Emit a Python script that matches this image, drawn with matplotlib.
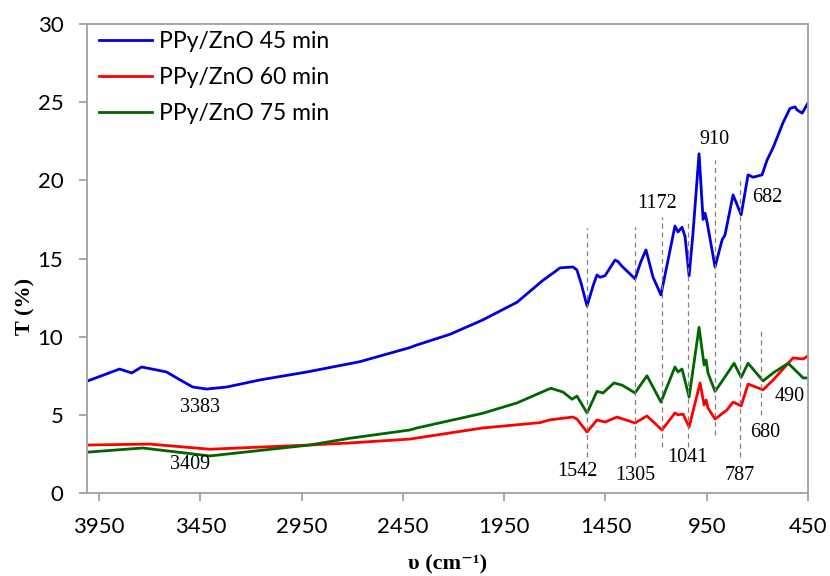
import numpy as np
import matplotlib
matplotlib.use('Agg')
import matplotlib.pyplot as plt

# FTIR spectra (wavenumber cm-1, T %)
blue_v = [4000, 3849, 3789, 3740, 3666, 3617, 3567, 3488, 3419, 3320, 3157, 2925,
          2663, 2416, 2381, 2218, 2056, 1887, 1759, 1700, 1675, 1611, 1591, 1570, 1541,
          1510, 1492, 1477, 1452, 1403, 1388, 1368, 1339, 1304, 1275, 1250, 1215,
          1176, 1141, 1107, 1092, 1072, 1057, 1037, 1018, 988, 968, 958, 948, 909,
          874, 860, 820, 780, 746, 721, 677, 652, 622, 573, 539, 514, 504, 479, 450]
blue_t = [7.2, 7.93, 7.68, 8.06, 7.87, 7.74, 7.36, 6.78, 6.65, 6.78, 7.23, 7.74,
          8.4, 9.3, 9.47, 10.15, 11.07, 12.2, 13.6, 14.15, 14.4, 14.46, 14.27, 13.4, 11.96,
          13.3, 13.95, 13.8, 13.9, 14.9, 14.8, 14.5, 14.14, 13.7, 14.8, 15.55, 13.8,
          12.67, 14.9, 17.08, 16.7, 17.0, 16.4, 13.9, 16.6, 21.7, 17.5, 17.9, 17.3, 14.46,
          16.2, 16.5, 19.07, 17.8, 20.35, 20.2, 20.35, 21.3, 22.1, 23.7, 24.6, 24.7, 24.5, 24.3, 24.95]

red_v = [4000, 3701, 3404, 2910, 2713, 2416, 2056, 1774, 1724, 1611, 1591, 1541,
         1492, 1452, 1393, 1304, 1245, 1171, 1107, 1092, 1067, 1037, 983, 963, 953,
         944, 909, 850, 820, 780, 746, 672, 622, 524, 474, 450]
red_t = [3.07, 3.13, 2.8, 3.07, 3.2, 3.45, 4.16, 4.5, 4.68, 4.86, 4.73, 3.9,
         4.67, 4.54, 4.86, 4.48, 4.93, 4.03, 5.12, 5.0, 5.05, 4.22, 7.04, 5.63, 5.95,
         5.44, 4.73, 5.31, 5.82, 5.57, 6.97, 6.6, 7.23, 8.64, 8.57, 8.77]

green_v = [4000, 3735, 3404, 2910, 2713, 2416, 2381, 2056, 1887, 1774, 1720, 1660,
           1615, 1591, 1541, 1492, 1462, 1408, 1368, 1304, 1245, 1176, 1107, 1092,
           1072, 1037, 988, 963, 953, 944, 909, 870, 815, 780, 746, 672, 622, 548, 474, 450]
green_t = [2.62, 2.88, 2.37, 3.07, 3.5, 4.03, 4.16, 5.1, 5.76, 6.4, 6.7, 6.46,
           6.0, 6.2, 5.12, 6.5, 6.4, 7.04, 6.9, 6.4, 7.5, 5.82, 8.06, 7.74,
           7.93, 6.14, 10.6, 8.19, 8.5, 7.68, 6.5, 7.23, 8.3, 7.4, 8.3, 7.17, 7.68, 8.3, 7.36, 7.36]

labels = ['PPy/ZnO 45 min', 'PPy/ZnO 60 min', 'PPy/ZnO 75 min']

# marker lines: wavenumber, bottom, top
mark_v = [1542, 1305, 1172, 1041, 910, 787, 680]
mark_lo = [2.3, 2.3, 2.95, 2.95, 3.7, 2.3, 5.0]
mark_hi = [16.95, 17.0, 17.65, 17.5, 21.3, 20.0, 10.55]

# peak annotations: text, x, y
ann_text = ['3383', '3409', '1542', '1305', '1172', '1041', '910', '787', '682', '680', '490']
ann_x = [3453, 3503, 1591, 1305, 1195, 1043, 910, 786, 652, 663, 539]
ann_y = [5.5, 1.8, 1.35, 1.15, 18.55, 2.24, 22.6, 1.15, 18.9, 3.84, 6.15]

fig = plt.figure(figsize=(8.3, 5.76), dpi=100)
ax = fig.add_axes([0.1048, 0.1441, 0.8687, 0.8142])

ax.plot(blue_v, blue_t, color='#0000DD', lw=2.0, label=labels[0])
ax.plot(red_v, red_t, color='#FF0000', lw=2.0, label=labels[1])
ax.plot(green_v, green_t, color='#006600', lw=2.0, label=labels[2])

for v, lo, hi in zip(mark_v, mark_lo, mark_hi):
    ax.plot([v, v], [lo, hi], color='#808080', lw=0.9, linestyle=(0, (4, 3)))

for t, x, y in zip(ann_text, ann_x, ann_y):
    ax.text(x, y, t, ha='center', va='center', fontsize=14.5,
            family=['Liberation Serif', 'DejaVu Serif'])

ax.set_xlim(4010, 450)
ax.set_ylim(0, 30)
ax.set_xticks(np.arange(3950, 449, -500))
ax.set_yticks(np.arange(0, 31, 5))

for s in ax.spines.values():
    s.set_color('#A0A0A0')
    s.set_linewidth(1.3)
ax.tick_params(direction='out', length=6, width=1.3, color='#A0A0A0',
               labelsize=16, pad=11)
for lab in ax.get_xticklabels() + ax.get_yticklabels():
    lab.set_family('Lato')

leg = ax.legend(loc='upper left', bbox_to_anchor=(0.0166, 0.985), frameon=False,
                borderpad=0, borderaxespad=0, handlelength=2.3, handletextpad=0.3,
                labelspacing=0.65, prop={'family': 'Lato', 'size': 16.5})
for h in leg.get_lines():
    h.set_linewidth(2.0)

fig.text(447.5 / 830, 1 - 564 / 576, 'υ (cm⁻¹)', ha='center', va='center',
         fontsize=16, fontweight='bold', family=['Liberation Serif', 'DejaVu Serif'])
fig.text(25 / 830, 1 - 306 / 576, 'T (%)', ha='center', va='center', rotation=90,
         fontsize=16, fontweight='bold', family=['Liberation Serif', 'DejaVu Serif'])

plt.savefig('out.png', dpi=100)
